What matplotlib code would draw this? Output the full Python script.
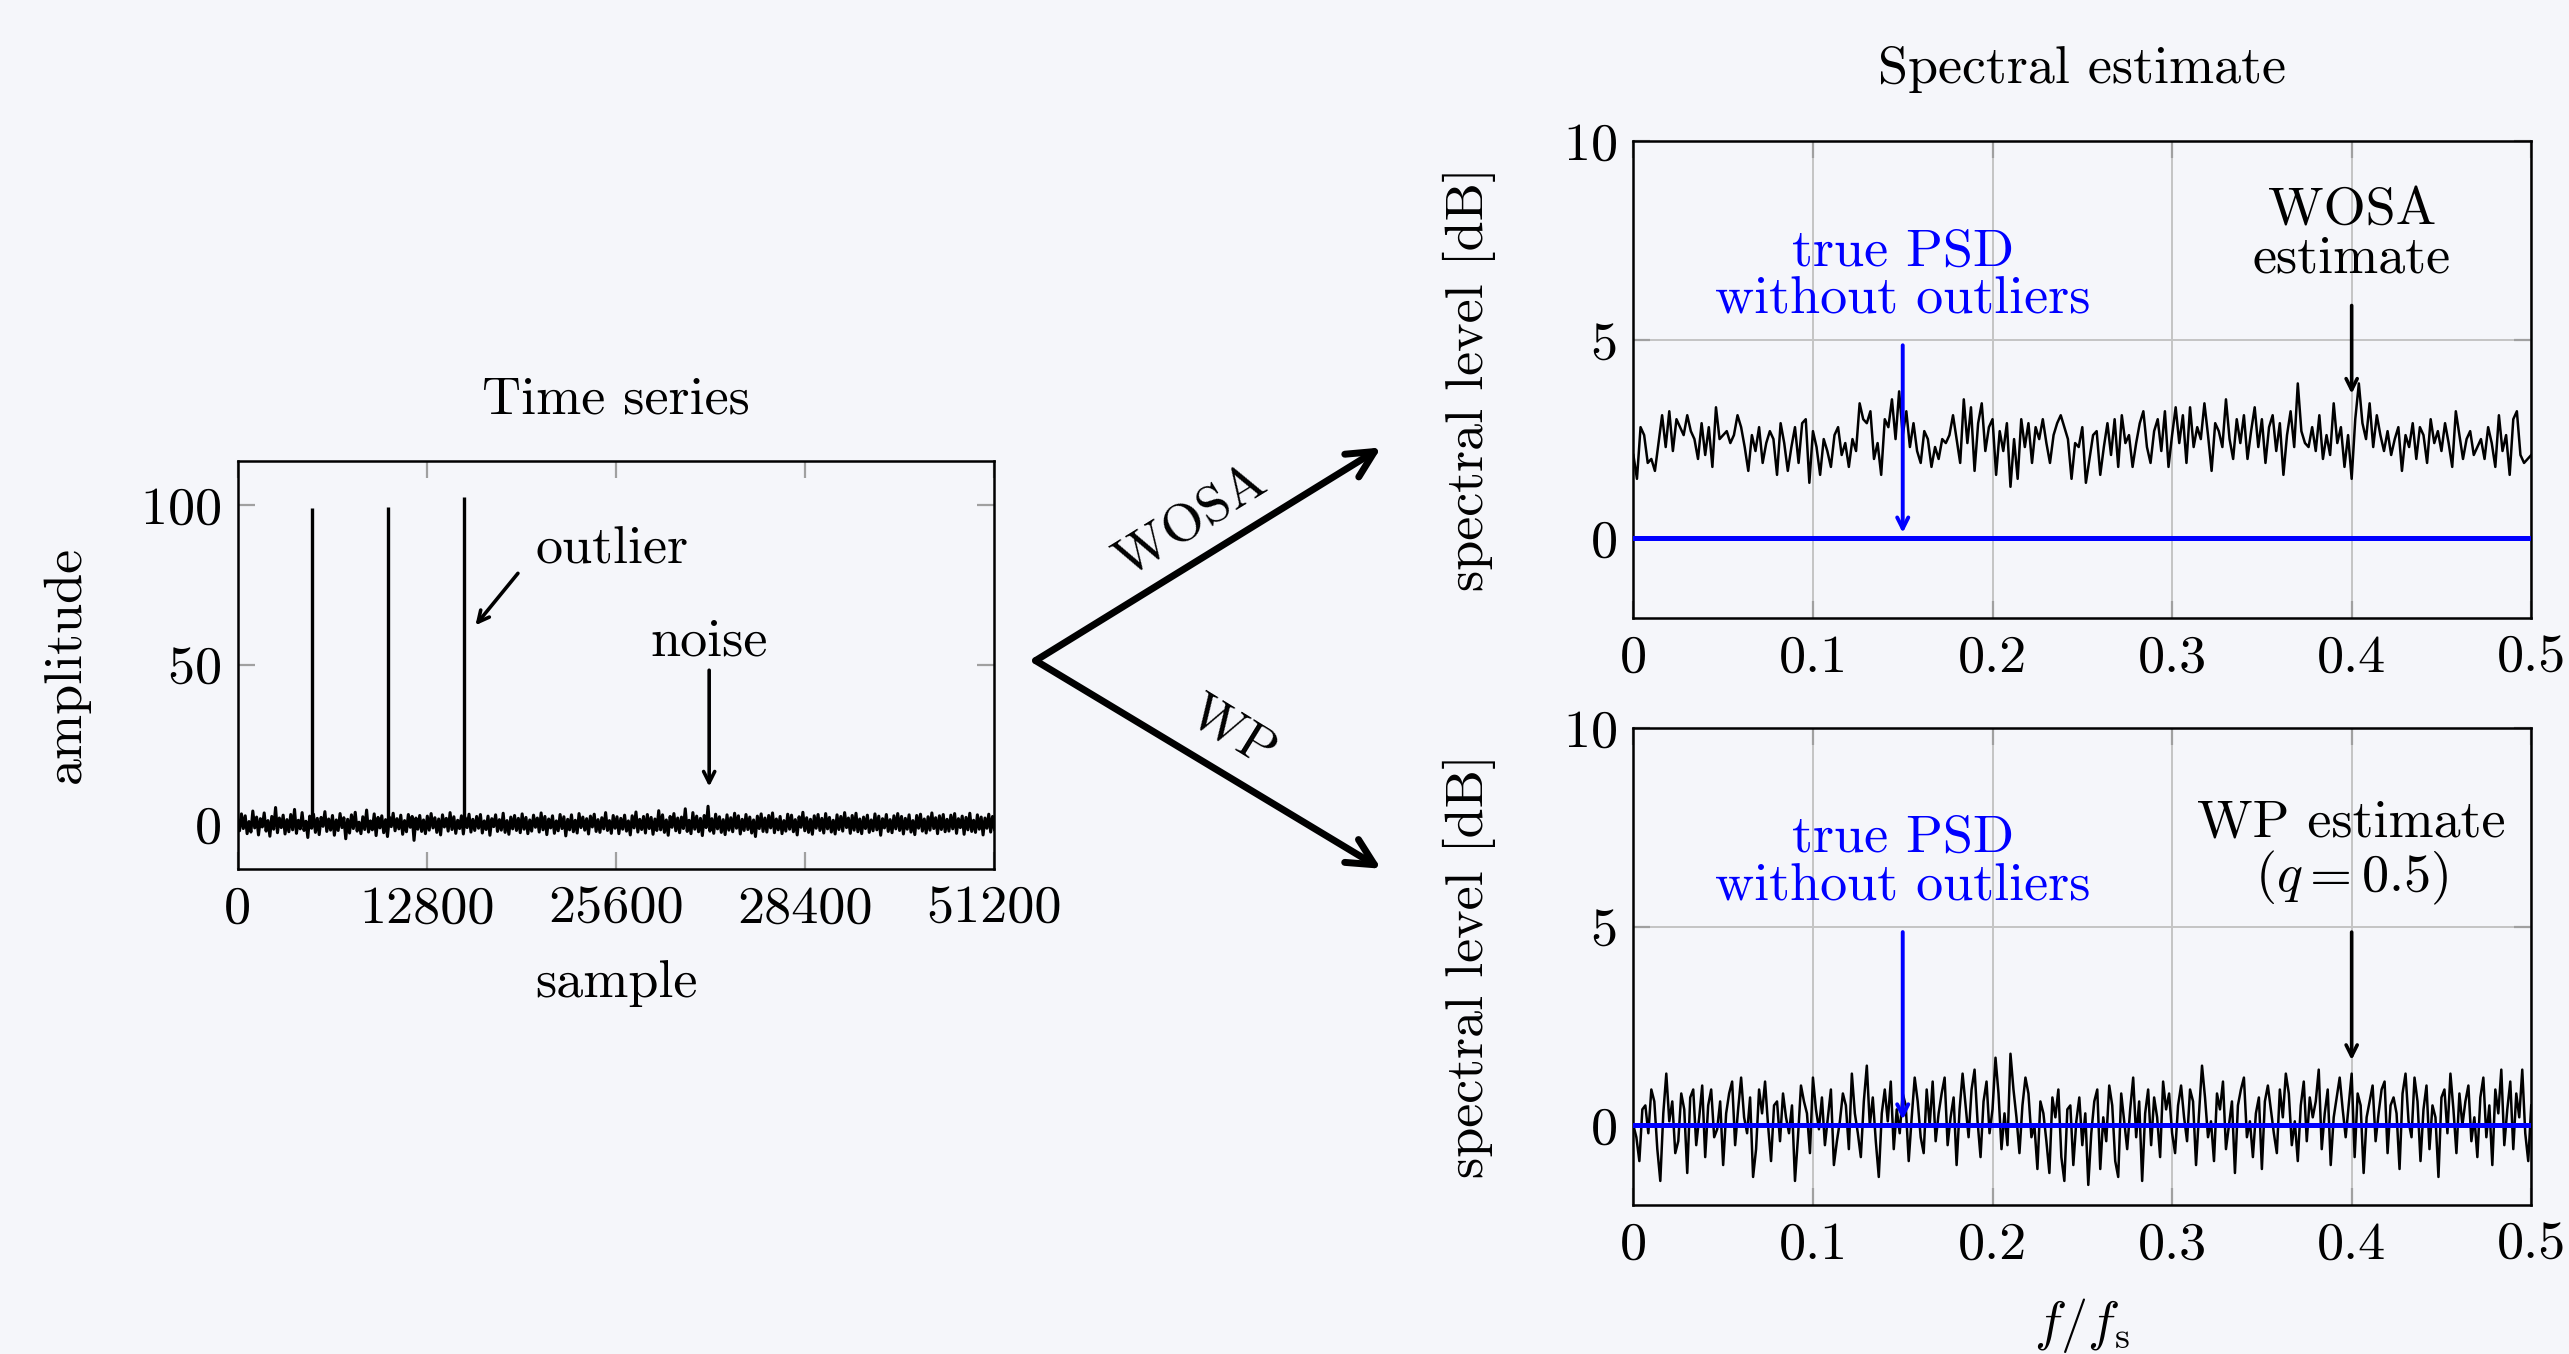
import numpy as np
import matplotlib
matplotlib.use("Agg")
import matplotlib.pyplot as plt
from matplotlib.patches import FancyArrowPatch

# time series: noise samples (evenly spread over the record) and the outliers
noise_vals = [
    1.5, -2.1, 3.2, -1.4, 2.6, -3.0, 0.8, -2.5, 4.1, -1.2, 2.2, -3.4, 1.7, -0.9, 3.5, -2.2, 1.1, -3.8, 2.4, -1.6, 5.2, -2.7, 1.9, -1.1, 2.8,
    -3.1, 1.4, -2.4, 3.0, -1.8, 4.6, -2.9, 1.2, -1.5, 3.6, -2.0, 0.9, -4.2, 2.5, -1.3, 3.1, -2.6, 1.8, -3.3, 2.1, -0.7, 3.9, -2.3, 1.6, -1.9,
    2.7, -3.5, 1.3, -2.0, 3.3, -1.1, 2.0, -4.6, 1.5, -2.8, 2.9, -1.4, 3.7, -2.2, 0.6, -3.0, 2.3, -1.7, 4.4, -2.5, 1.0, -1.8, 3.2, -3.6, 2.1,
    -1.2, 2.6, -2.7, 1.4, -3.9, 2.2, -0.8, 3.4, -2.1, 1.7, -1.5, 2.8, -3.2, 1.1, -2.4, 3.0, -1.0, 2.4, -5.1, 1.9, -1.6, 2.7, -2.3, 1.3, -3.0,
    2.5, -1.9, 3.3, -1.2, 2.0, -2.6, 1.6, -3.4, 2.9, -0.9, 1.8, -2.2, 3.6, -1.7, 2.3, -2.9, 1.2, -1.4, 2.6, -3.1, 2.0, -1.1, 3.1, -2.5, 1.5,
    -2.0, 2.4, -1.3, 3.0, -2.8, 1.0, -1.7, 2.5, -3.5, 1.7, -0.8, 2.9, -2.3, 1.4, -1.9, 3.4, -2.6, 1.1, -3.2, 2.2, -1.5, 2.7, -2.0, 1.8, -2.7,
    3.2, -1.6, 2.1, -3.0, 1.3, -2.2, 2.8, -1.0, 1.9, -2.5, 3.5, -1.8, 2.4, -3.3, 1.6, -1.2, 2.6, -2.9, 1.0, -2.1, 3.0, -1.4, 2.3, -3.7, 1.5,
    -1.8, 2.9, -2.4, 1.2, -2.8, 3.3, -1.1, 2.2, -1.9, 1.7, -3.1, 2.5, -0.9, 3.1, -2.3, 1.4, -2.6, 2.0, -1.5, 3.6, -2.0, 1.1, -2.9, 2.7, -1.3,
    2.3, -3.0, 1.8, -1.6, 2.8, -2.2, 1.0, -3.4, 2.6, -1.2, 3.8, -2.5, 1.5, -1.7, 2.4, -2.8, 3.0, -1.4, 2.1, -3.2, 1.6, -2.0, 4.2, -1.8, 2.9,
    -2.6, 1.3, -3.5, 2.4, -1.0, 3.3, -2.1, 1.9, -2.7, 2.2, -1.4, 4.8, -2.3, 1.2, -3.0, 3.6, -1.6, 2.5, -2.4, 1.8, -3.6, 2.7, -1.1, 5.6, -2.2,
    1.7, -2.9, 3.1, -1.5, 2.3, -2.6, 1.4, -3.3, 2.9, -1.9, 2.0, -2.4, 3.4, -1.3, 2.6, -3.1, 1.5, -2.0, 3.0, -1.7, 2.2, -2.8, 1.3, -3.9, 2.5,
    -1.4, 3.2, -2.3, 1.9, -2.5, 2.7, -1.2, 3.5, -2.7, 1.6, -1.8, 2.4, -3.0, 1.1, -2.2, 3.1, -1.6, 2.8, -2.4, 1.4, -3.4, 2.3, -1.0, 3.7, -2.1,
    2.0, -2.6, 1.5, -3.2, 2.6, -1.3, 3.0, -2.0, 1.8, -2.8, 3.3, -1.5, 2.1, -2.5, 1.2, -3.1, 2.9, -1.7, 2.4, -2.2, 3.6, -1.1, 1.9, -2.9, 2.7,
    -1.9, 3.4, -2.4, 1.6, -3.0, 2.2, -1.4, 2.8, -2.6, 1.3, -2.1, 3.2, -1.8, 2.5, -3.5, 1.7, -1.2, 3.0, -2.3, 1.4, -2.7, 2.6, -1.5, 3.3, -2.0,
    2.4, -3.1, 1.8, -1.6, 2.9, -2.5, 1.1, -3.3, 2.7, -1.3, 3.1, -2.2, 1.6, -2.8, 2.3, -1.9, 3.5, -1.4, 2.0, -3.0, 2.6, -1.7, 3.0, -2.4, 1.5,
    -2.2, 2.8, -1.5, 3.3, -2.9, 1.7, -1.1, 2.5, -3.2, 2.1, -1.8, 3.4, -2.3, 1.2, -2.6, 2.9, -1.6, 2.2, -3.4, 1.9, -1.3, 3.1, -2.5, 2.4, -1.7,
]
outlier_pos = [5000, 10200, 15300]
outlier_amp = [99.0, 99.4, 102.6]
ts_ticks = [0, 12800, 25600, 38400, 51200]
ts_ticklabels = ["0", "12800", "25600", "28400", "51200"]

# spectral estimates in dB over f/fs = 0 ... 0.5
wosa_db = [
    2.1, 1.5, 2.8, 2.6, 1.9, 2.0, 1.7, 2.4, 3.1, 2.3, 3.2, 2.2, 3.0, 2.8, 2.6, 3.1, 2.7, 2.5, 2.0, 2.9, 2.1, 2.8, 1.8, 3.3, 2.5,
    2.6, 2.7, 2.4, 2.6, 3.1, 2.8, 2.3, 1.7, 2.6, 2.2, 2.8, 1.9, 2.4, 2.7, 2.5, 1.6, 2.9, 2.4, 1.7, 2.3, 2.8, 1.9, 2.9, 3.0, 1.4,
    2.7, 2.3, 1.6, 2.5, 2.2, 1.8, 2.6, 2.8, 2.1, 2.4, 1.8, 2.5, 2.2, 3.4, 3.0, 2.9, 3.2, 2.0, 2.4, 1.6, 3.0, 2.8, 3.5, 2.5, 3.7,
    2.6, 3.2, 2.3, 2.9, 2.2, 1.9, 2.7, 2.5, 1.8, 2.3, 2.0, 2.5, 2.4, 2.6, 3.1, 2.5, 1.9, 3.5, 2.4, 3.3, 1.7, 2.9, 3.4, 2.2, 2.8,
    3.0, 1.6, 2.7, 2.2, 2.9, 1.3, 2.5, 1.5, 3.0, 2.3, 2.9, 1.9, 2.8, 2.5, 3.0, 2.4, 1.9, 2.6, 2.9, 3.1, 2.8, 2.5, 1.5, 2.4, 2.3,
    2.8, 1.4, 2.0, 2.6, 2.7, 1.6, 2.3, 2.9, 2.1, 3.0, 1.8, 3.1, 2.4, 2.6, 1.8, 2.4, 2.9, 3.2, 2.3, 1.9, 2.7, 3.0, 2.2, 3.2, 1.8,
    2.6, 3.3, 2.4, 3.1, 1.9, 3.3, 2.3, 2.8, 2.5, 3.4, 2.6, 1.7, 2.9, 2.7, 2.3, 3.5, 2.5, 2.0, 3.0, 2.4, 3.1, 2.0, 2.7, 3.3, 2.3,
    3.0, 1.9, 2.8, 3.1, 2.2, 2.9, 1.6, 2.6, 3.2, 2.3, 3.9, 2.7, 2.4, 2.3, 2.8, 2.2, 3.1, 2.0, 2.6, 2.1, 3.4, 2.4, 2.8, 1.8, 2.6,
    1.5, 3.0, 3.9, 2.9, 2.5, 3.4, 2.3, 3.1, 2.6, 2.2, 2.7, 2.1, 2.5, 2.8, 1.7, 2.6, 2.3, 2.9, 2.0, 2.8, 2.6, 1.9, 3.0, 2.4, 2.7,
    2.2, 2.9, 2.4, 1.8, 3.2, 2.6, 2.0, 2.5, 2.7, 2.1, 2.3, 2.5, 2.0, 2.8, 2.4, 1.8, 3.1, 2.2, 2.6, 1.6, 3.0, 3.2, 2.1, 1.9, 2.0, 2.1,
]
wp_db = [
    0.0, -0.3, -0.9, 0.4, 0.5, -0.2, 0.9, 0.6, -0.6, -1.4, 0.3, 1.3, 0.1, 0.6, -0.7, -0.4, 0.8, 0.4, -1.2, 0.7, 0.9, -0.5, 0.2, 1.0, -0.8,
    0.5, 0.9, -0.3, -0.1, 0.6, -1.0, 0.3, 0.8, 1.1, -0.5, 0.4, 1.2, 0.2, -0.2, 0.7, -1.3, -0.6, 0.9, 0.3, 1.1, 0.0, -0.9, 0.5, 0.6, -0.4,
    0.8, 0.2, -0.2, 0.5, -1.4, -0.3, 1.0, 0.6, 0.3, -0.7, 1.2, 0.4, -0.1, 0.7, -0.5, 0.2, 0.9, -1.0, -0.4, 0.1, 0.8, 0.5, -0.6, 1.3, 0.3,
    -0.2, -0.8, 0.6, 1.5, 0.0, 0.7, -0.4, -1.3, 0.3, 0.9, 0.1, 1.1, -0.6, 0.4, -0.2, 0.8, 0.5, -0.9, 0.2, 1.2, 0.6, -0.3, -0.7, 0.9, 0.0,
    1.1, -0.4, 0.3, 0.8, 1.2, -0.5, 0.2, 0.7, -1.0, 0.4, 1.3, 0.5, -0.3, 0.9, 1.4, 0.1, -0.8, 0.6, 1.1, -0.2, 0.4, 1.7, 0.8, -0.6, 0.3,
    -0.5, 1.8, 0.9, 0.2, -0.7, 0.5, 1.2, 0.8, -0.3, 0.0, -1.1, 0.6, 0.3, -0.4, -1.2, 0.7, 0.2, 0.9, -0.8, -1.4, 0.4, 0.5, -1.0, 0.1, 0.7,
    -0.5, 0.3, -1.5, -0.2, 0.6, 0.9, -1.1, 0.2, -0.4, 1.0, 0.5, -0.9, -1.3, 0.8, 0.1, -0.6, 0.4, 1.2, -0.3, 0.6, -1.4, 0.3, 0.9, -0.5, 0.7,
    0.2, -0.8, 1.1, 0.4, 0.8, -0.2, -0.7, 0.5, 1.0, 0.2, -0.4, 0.9, 0.6, -1.0, 0.3, 1.5, 0.7, -0.3, 0.1, -0.9, 0.8, 0.4, 1.1, -0.6, 0.0,
    0.6, -1.2, 0.5, 0.9, 1.2, -0.3, 0.1, -0.8, 0.3, 0.7, -1.1, 0.6, 1.0, 0.4, -0.2, -0.7, 0.9, 0.2, 1.3, 0.8, -0.5, 0.1, -0.9, 0.5, 1.1,
    -0.4, 0.7, 0.2, 0.6, 1.4, -0.6, 0.3, 0.9, -1.0, 0.2, 0.7, 1.2, 0.4, -0.3, 0.5, 1.3, -0.8, 0.8, 0.5, -1.2, 0.2, 0.6, 1.0, -0.4, 0.3,
    0.9, 1.1, -0.7, 0.5, 0.7, 0.3, -1.1, 0.8, 1.3, 0.1, -0.3, 1.2, 0.6, -0.9, 0.4, 1.0, -0.6, 0.5, 0.2, -1.3, 0.7, 0.9, -0.2, 1.3, 0.4,
    -0.7, 0.8, 0.0, 0.6, 1.0, -0.4, 0.2, -0.8, 0.7, 1.2, -0.3, 0.5, -1.0, 0.9, 0.3, 1.4, -0.5, 0.4, 1.1, -0.6, 0.8, 0.2, 1.4, -0.2, -0.9, 0.5,
]
true_psd_db = 0.0
f_ticks = [0, 0.1, 0.2, 0.3, 0.4, 0.5]
f_ticklabels = ["0", "0.1", "0.2", "0.3", "0.4", "0.5"]
db_ticks = [0, 5, 10]

plt.rcParams["font.family"] = "serif"
plt.rcParams["font.serif"] = ["cmr10"]
plt.rcParams["mathtext.fontset"] = "cm"
plt.rcParams["axes.formatter.use_mathtext"] = True
plt.rcParams["axes.unicode_minus"] = False

bg = "#f5f6fa"
fs = 19.5
fig = plt.figure(figsize=(12.845, 6.77), dpi=200, facecolor=bg)


def style_axes(ax, grid):
    ax.set_facecolor(bg)
    for sp in ax.spines.values():
        sp.set_linewidth(0.9)
        sp.set_color("black")
    ax.tick_params(direction="in", length=6, width=0.8, color="#a0a0a0",
                   top=True, right=True, labelsize=fs, pad=6)
    if grid:
        ax.grid(True, color="#c4c4c4", linewidth=0.7)
        ax.set_axisbelow(True)


# time series
ax_ts = fig.add_axes([0.0925, 0.3584, 0.2946, 0.3014])
style_axes(ax_ts, False)
t = np.linspace(0, 51200, len(noise_vals))
ax_ts.plot(t, noise_vals, color="black", lw=1.1)
ax_ts.vlines(outlier_pos, 0, outlier_amp, color="black", lw=1.2)
ax_ts.set_xlim(0, 51200)
ax_ts.set_ylim(-14, 114)
ax_ts.set_xticks(ts_ticks)
ax_ts.set_xticklabels(ts_ticklabels)
ax_ts.set_yticks([0, 50, 100])
ax_ts.set_title("Time series", fontsize=fs, pad=17)
ax_ts.set_xlabel("sample", fontsize=fs, labelpad=10)
ax_ts.set_ylabel("amplitude", fontsize=fs, labelpad=18)
ax_ts.annotate("", xy=(15850, 61), xytext=(19200, 80),
               arrowprops=dict(arrowstyle="->", color="black", lw=1.3))
ax_ts.text(25300, 86, "outlier", fontsize=fs, ha="center", va="center")
ax_ts.annotate("", xy=(31900, 10), xytext=(31900, 50),
               arrowprops=dict(arrowstyle="->", color="black", lw=1.3))
ax_ts.text(31900, 57, "noise", fontsize=fs, ha="center", va="center")

# spectral estimates
ax_w = fig.add_axes([0.6358, 0.5436, 0.3495, 0.3523])
ax_p = fig.add_axes([0.6358, 0.1102, 0.3495, 0.3523])
specs = [(ax_w, wosa_db, "WOSA\nestimate", 7.65, 6.0, 3.5),
         (ax_p, wp_db, "WP estimate\n$(q = 0.5)$", 6.85, 5.0, 1.5)]
for ax, vals, label, ly, a0, a1 in specs:
    style_axes(ax, True)
    f = np.linspace(0, 0.5, len(vals))
    ax.plot(f, vals, color="black", lw=0.9, zorder=3)
    ax.axhline(true_psd_db, color="#0000ff", lw=1.8, zorder=4)
    ax.set_xlim(0, 0.5)
    ax.set_ylim(-2, 10)
    ax.set_xticks(f_ticks)
    ax.set_xticklabels(f_ticklabels)
    ax.set_yticks(db_ticks)
    ax.set_ylabel("spectral level [dB]", fontsize=fs, labelpad=24)
    ax.annotate("", xy=(0.15, true_psd_db), xytext=(0.15, 5),
                arrowprops=dict(arrowstyle="->", color="#0000ff", lw=1.4), zorder=5)
    ax.text(0.15, 6.6, "true PSD\nwithout outliers", color="#0000ff", fontsize=fs,
            ha="center", va="center", linespacing=1.05)
    ax.annotate("", xy=(0.4, a1), xytext=(0.4, a0),
                arrowprops=dict(arrowstyle="->", color="black", lw=1.3), zorder=5)
    ax.text(0.4, ly, label, color="black", fontsize=fs, ha="center", va="center",
            linespacing=1.05)

ax_w.set_title("Spectral estimate", fontsize=fs, pad=21)
ax_p.set_xlabel("$f/f_\\mathrm{s}$", fontsize=fs, labelpad=10)

# branching arrows
start = (0.4031, 0.5121)
for end in [(0.5376, 0.6695), (0.5376, 0.3584)]:
    fig.add_artist(FancyArrowPatch(start, end, transform=fig.transFigure,
                                   arrowstyle="->", mutation_scale=24, lw=2.5,
                                   color="black", shrinkA=0, shrinkB=0))
fig.text(0.4637, 0.615, "WOSA", fontsize=fs, rotation=31.6, ha="center", va="center")
fig.text(0.4796, 0.4588, "WP", fontsize=fs, rotation=-31.6, ha="center", va="center")

fig.savefig("out.png", dpi=200, facecolor=bg)
